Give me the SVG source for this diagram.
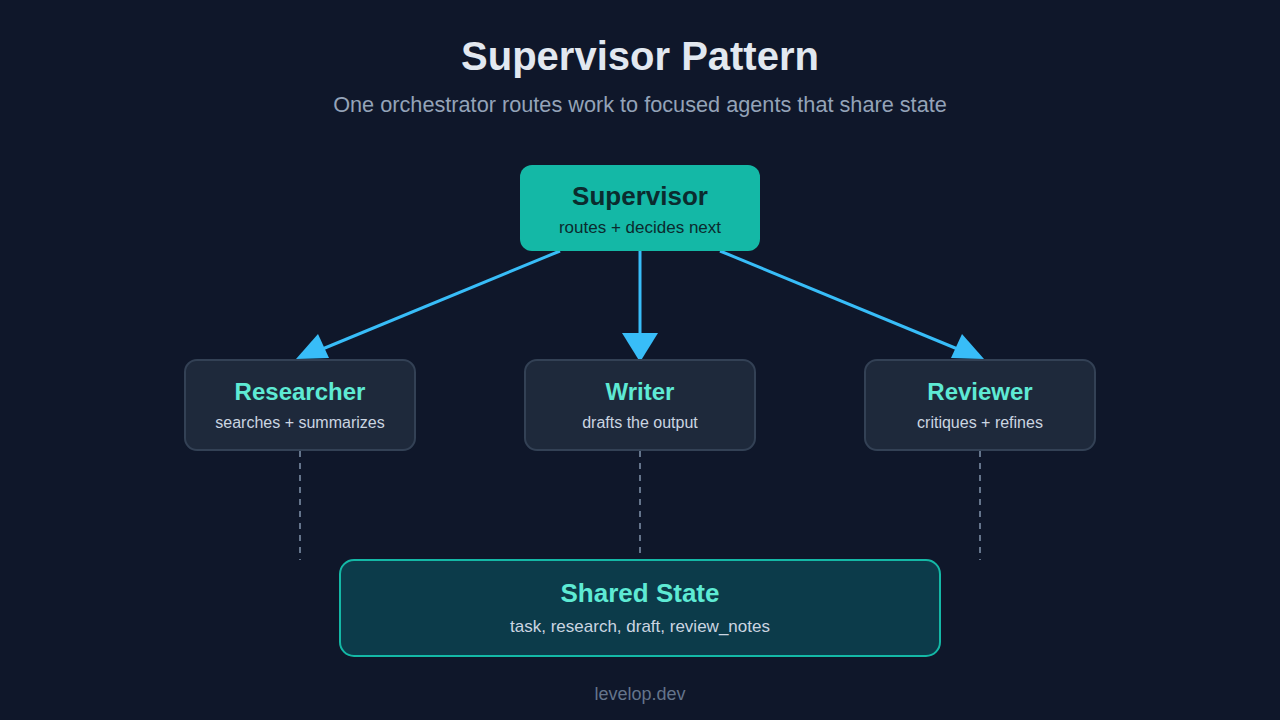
<svg xmlns="http://www.w3.org/2000/svg" width="1280" height="720" viewBox="0 0 1280 720">
<style>
.t{font-family:"Liberation Sans",Arial,sans-serif;text-anchor:middle}
.nt{font-size:24px;font-weight:bold;fill:#5eead4}
.ns{font-size:16px;fill:#cbd5e1}
.agent{fill:#1e293b;stroke:#334155;stroke-width:2}
</style>
<rect width="1280" height="720" fill="#0f172a"/>
<text class="t" x="640" y="70" font-size="40" font-weight="bold" fill="#e2e8f0">Supervisor Pattern</text>
<text class="t" x="640" y="112" font-size="21.7" fill="#94a3b8">One orchestrator routes work to focused agents that share state</text>
<g id="connectors" stroke-width="3">
<g stroke="#38bdf8" fill="#38bdf8">
<line x1="560" y1="251" x2="320" y2="350"/>
<polygon points="296,359 318,334 329,358" stroke="none"/>
<line x1="640" y1="251" x2="640" y2="340"/>
<polygon points="622,333 658,333 640,362" stroke="none"/>
<line x1="720" y1="251" x2="960" y2="350"/>
<polygon points="984,359 962,334 951,358" stroke="none"/>
</g>
<g stroke="#64748b" stroke-width="2" stroke-dasharray="6 6">
<line x1="300" y1="451" x2="300" y2="560"/>
<line x1="640" y1="451" x2="640" y2="560"/>
<line x1="980" y1="451" x2="980" y2="560"/>
</g>
</g>
<g id="supervisor">
<rect x="520" y="165" width="240" height="86" rx="12" fill="#14b8a6"/>
<text class="t" x="640" y="205" font-size="26" font-weight="bold" fill="#0b2b2e">Supervisor</text>
<text class="t" x="640" y="233" font-size="17" fill="#0b2b2e">routes + decides next</text>
</g>
<g id="researcher">
<rect class="agent" x="185" y="360" width="230" height="90" rx="12"/>
<text class="t nt" x="300" y="400">Researcher</text>
<text class="t ns" x="300" y="428">searches + summarizes</text>
</g>
<g id="writer">
<rect class="agent" x="525" y="360" width="230" height="90" rx="12"/>
<text class="t nt" x="640" y="400">Writer</text>
<text class="t ns" x="640" y="428">drafts the output</text>
</g>
<g id="reviewer">
<rect class="agent" x="865" y="360" width="230" height="90" rx="12"/>
<text class="t nt" x="980" y="400">Reviewer</text>
<text class="t ns" x="980" y="428">critiques + refines</text>
</g>
<g id="shared">
<rect x="340" y="560" width="600" height="96" rx="14" fill="#0c3b4a" stroke="#14b8a6" stroke-width="2"/>
<text class="t" x="640" y="602" font-size="26" font-weight="bold" fill="#5eead4">Shared State</text>
<text class="t" x="640" y="632" font-size="17" fill="#cbd5e1">task, research, draft, review_notes</text>
</g>
<text class="t" x="640" y="700" font-size="18" fill="#64748b">levelop.dev</text>
</svg>
